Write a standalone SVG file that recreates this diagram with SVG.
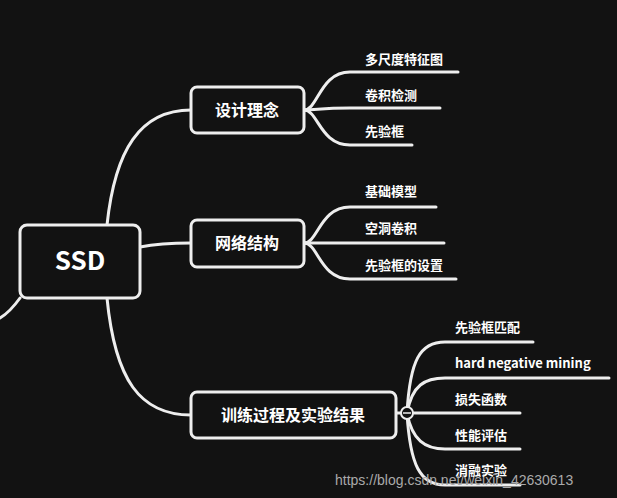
<svg xmlns="http://www.w3.org/2000/svg" width="617" height="498" viewBox="0 0 617 498">
<style>
.c{fill:none;stroke:#eeeeee;stroke-width:3;stroke-linecap:round}
.b{fill:#121212;stroke:#eeeeee;stroke-width:3}
.t{fill:#ffffff;font-family:"Noto Sans CJK SC","Noto Sans",sans-serif;font-weight:bold}
.s{fill:#ffffff;font-family:"Noto Sans CJK SC","Noto Sans",sans-serif;font-weight:bold;font-size:13px}
</style>
<rect width="617" height="498" fill="#121212"/>
<g id="connectors">
<path class="c" d="M20,298 Q10,312 0,318"/>
<path class="c" d="M107,225 C115,150 140,110 191,110"/>
<path class="c" d="M140,247 Q160,243 191,243"/>
<path class="c" d="M107,298 C115,380 140,415 191,415"/>
<path class="c" d="M304,110 C318,110 320,72 350,72 L458,72"/>
<path class="c" d="M304,110 C318,110 320,108 350,108 L440,108"/>
<path class="c" d="M304,110 C318,110 320,145 350,145 L412,145"/>
<path class="c" d="M304,243 C318,243 320,207 350,207 L436,207"/>
<path class="c" d="M304,243 L444,243"/>
<path class="c" d="M304,243 C318,243 320,279 350,279 L456,279"/>
<path class="c" d="M396,413 L401,413"/>
<path class="c" d="M407,413 C410,360 420,342 445,342 L533,342"/>
<path class="c" d="M407,413 C412,385 425,378 445,378 L609,378"/>
<path class="c" d="M413,413 L520,413"/>
<path class="c" d="M407,413 C412,440 425,449 445,449 L520,449"/>
<path class="c" d="M407,413 C410,465 420,485 445,485 L520,485"/>
<circle cx="407" cy="413" r="6" fill="#121212" stroke="#eeeeee" stroke-width="2"/>
<line x1="403" y1="413" x2="411" y2="413" stroke="#eeeeee" stroke-width="1.5"/>
</g>
<g id="ssd"><rect class="b" x="20" y="225" width="120" height="73" rx="7"/><text class="t" x="80" y="270" font-size="26" text-anchor="middle">SSD</text></g>
<g id="n1"><rect class="b" x="191" y="87" width="113" height="46" rx="6"/><text class="t" x="247" y="116" font-size="16" text-anchor="middle">设计理念</text></g>
<g id="n2"><rect class="b" x="191" y="220" width="113" height="47" rx="6"/><text class="t" x="247" y="249" font-size="16" text-anchor="middle">网络结构</text></g>
<g id="n3"><rect class="b" x="191" y="392" width="205" height="46" rx="6"/><text class="t" x="293" y="421" font-size="16" text-anchor="middle">训练过程及实验结果</text></g>
<g id="leaves">
<text class="s" x="365" y="64">多尺度特征图</text>
<text class="s" x="365" y="100">卷积检测</text>
<text class="s" x="365" y="136">先验框</text>
<text class="s" x="365" y="196">基础模型</text>
<text class="s" x="365" y="233">空洞卷积</text>
<text class="s" x="365" y="270">先验框的设置</text>
<text class="s" x="455" y="332">先验框匹配</text>
<text class="s" x="455" y="368">hard negative mining</text>
<text class="s" x="455" y="404">损失函数</text>
<text class="s" x="455" y="440">性能评估</text>
<text class="s" x="455" y="475">消融实验</text>
</g>
<text x="335" y="485" fill="#aaaaaa" font-family="Liberation Sans,sans-serif" font-size="14">https://blog.csdn.net/weixin_42630613</text>
</svg>
